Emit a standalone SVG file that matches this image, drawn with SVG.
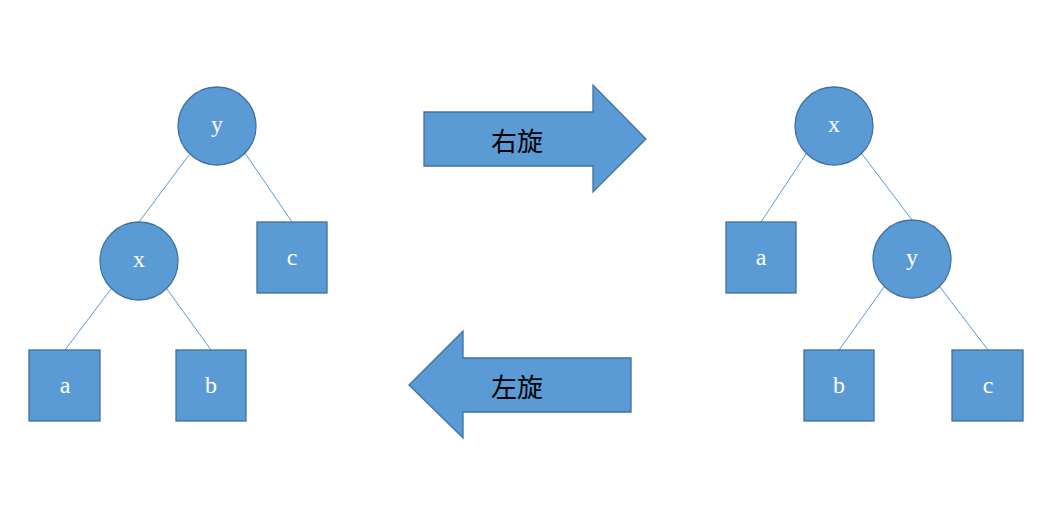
<svg xmlns="http://www.w3.org/2000/svg" width="1058" height="522" viewBox="0 0 1058 522">
<style>
.n{fill:#5b9bd5;stroke:#41719c;stroke-width:1.3}
.t{fill:#fff;font-family:"Liberation Serif",serif;font-size:24px;text-anchor:middle;dominant-baseline:central}
.c line{stroke:#5b9bd5;stroke-width:1}
.a{font-family:"Noto Sans CJK SC",sans-serif;font-size:26px;fill:#000;text-anchor:middle;dominant-baseline:central}
</style>
<rect width="1058" height="522" fill="#fff"/>
<g class="c" id="connectors">
<line x1="189" y1="155" x2="139" y2="222"/>
<line x1="245" y1="153" x2="292" y2="222"/>
<line x1="111" y1="289" x2="65" y2="350"/>
<line x1="167" y1="289" x2="211" y2="350"/>
<line x1="806" y1="154" x2="761" y2="222"/>
<line x1="862" y1="154" x2="912" y2="220"/>
<line x1="884" y1="287" x2="839" y2="350"/>
<line x1="940" y1="287" x2="988" y2="350"/>
</g>
<g id="L_y"><circle class="n" cx="217" cy="126" r="39"/><text class="t" x="217" y="124">y</text></g>
<g id="L_x"><circle class="n" cx="139" cy="261" r="39"/><text class="t" x="139" y="259">x</text></g>
<g id="L_c"><rect class="n" x="257" y="222" width="70" height="71"/><text class="t" x="292" y="257">c</text></g>
<g id="L_a"><rect class="n" x="29" y="350" width="71" height="71"/><text class="t" x="65" y="385">a</text></g>
<g id="L_b"><rect class="n" x="176" y="350" width="70" height="71"/><text class="t" x="211" y="385">b</text></g>
<g id="R_x"><circle class="n" cx="834" cy="126" r="39"/><text class="t" x="834" y="124">x</text></g>
<g id="R_a"><rect class="n" x="726" y="222" width="70" height="71"/><text class="t" x="761" y="257">a</text></g>
<g id="R_y"><circle class="n" cx="912" cy="259" r="39"/><text class="t" x="912" y="257">y</text></g>
<g id="R_b"><rect class="n" x="804" y="350" width="70" height="71"/><text class="t" x="839" y="385">b</text></g>
<g id="R_c"><rect class="n" x="952" y="350" width="71" height="71"/><text class="t" x="988" y="385">c</text></g>
<g id="arrow_right"><polygon class="n" points="424,112 593,112 593,85 646,139 593,192 593,166 424,166"/><text class="a" x="517" y="139">右旋</text></g>
<g id="arrow_left"><polygon class="n" points="631,358 463,358 463,331 409,385 463,438 463,412 631,412"/><text class="a" x="517" y="385">左旋</text></g>
</svg>
